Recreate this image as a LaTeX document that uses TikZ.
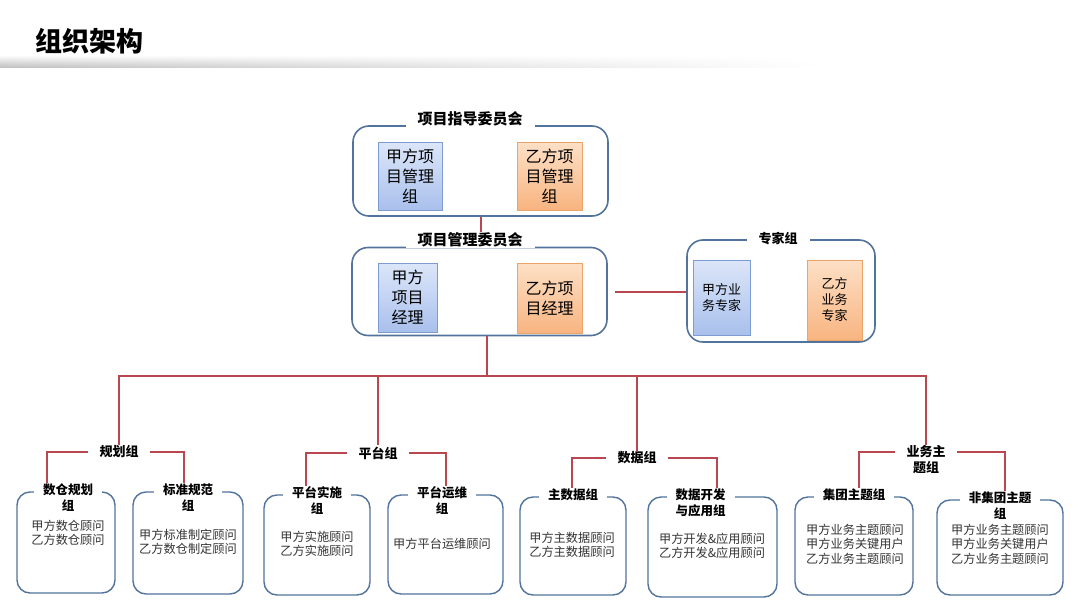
\documentclass[tikz,border=0pt]{standalone}
\usepackage{fontspec}
\setmainfont{Noto Sans CJK SC}
\usepackage{tikz}
\usetikzlibrary{positioning, calc, fadings}
\definecolor{myframe}{HTML}{52739B}
\definecolor{myred}{HTML}{B8474F}
\definecolor{myblue}{HTML}{A9C0EC}
\definecolor{mybluelt}{HTML}{DCE6F9}
\definecolor{myblueln}{HTML}{7E9BD2}
\definecolor{myorange}{HTML}{F8B480}
\definecolor{myorangelt}{HTML}{FDE0C6}
\definecolor{myorangeln}{HTML}{E9A46B}
\definecolor{mytext}{HTML}{333333}
\tikzfading[name=fadeout, left color=transparent!0, right color=transparent!100]

\begin{document}
\begin{tikzpicture}[x=1pt, y=-1pt,
    panel/.style={draw=myframe, line width=1.6pt, rounded corners=16pt, inner sep=0pt},
    subpanel/.style={draw=myframe, line width=1.4pt, rounded corners=13pt, inner sep=0pt},
    head/.style={fill=white, font=\bfseries\fontsize{15}{18}\selectfont, inner xsep=12pt, inner ysep=1pt},
    grouphead/.style={fill=white, font=\bfseries\fontsize{13}{16}\selectfont, align=center, inner xsep=11pt, inner ysep=1pt},
    subhead/.style={fill=white, font=\bfseries\fontsize{12.5}{15.5}\selectfont, align=center, inner xsep=9pt, inner ysep=1pt, anchor=north, yshift=8.5pt},
    jia/.style={draw=myblueln, top color=mybluelt, bottom color=myblue, align=center, inner sep=0pt, font=\fontsize{16}{20}\selectfont},
    yi/.style={draw=myorangeln, top color=myorangelt, bottom color=myorange, align=center, inner sep=0pt, font=\fontsize{16}{20}\selectfont},
    member/.style={font=\fontsize{12.2}{14.5}\selectfont, text=mytext, align=center},
    link/.style={draw=myred, line width=2pt}]
    \useasboundingbox (0,0) rectangle (1080,608);

    \node[anchor=west, font=\bfseries\fontsize{27}{32}\selectfont] (title) at (32,41) {组织架构};
    \shade[top color=white, bottom color=black!24, path fading=fadeout] (0,55) rectangle (820,67);

    \node[panel, minimum width=255pt, minimum height=90pt] (steer) at (480.5,171) {};
    \node[head] (steerT) at (470,119) {项目指导委员会};
    \node[jia, minimum width=64pt, minimum height=68pt] (steerA) at (410,176) {甲方项\\目管理\\组};
    \node[yi, minimum width=65pt, minimum height=68pt] (steerB) at (549.5,176) {乙方项\\目管理\\组};

    \node[panel, minimum width=255pt, minimum height=88pt] (mgmt) at (479.5,291.5) {};
    \node[head] (mgmtT) at (470,240) {项目管理委员会};
    \node[jia, minimum width=59pt, minimum height=69pt] (mgmtA) at (407.5,297.5) {甲方\\项目\\经理};
    \node[yi, minimum width=65pt, minimum height=70pt] (mgmtB) at (549.5,298) {乙方项\\目经理};

    \node[panel, minimum width=188pt, minimum height=102pt] (expert) at (781,291) {};
    \node[head, font=\bfseries\fontsize{13}{16}\selectfont] (expertT) at (778,239) {专家组};
    \node[jia, minimum width=57pt, minimum height=75pt, font=\fontsize{13}{16}\selectfont] (expertA) at (721.5,297.5) {甲方业\\务专家};
    \node[yi, minimum width=55pt, minimum height=80pt, font=\fontsize{13}{16}\selectfont] (expertB) at (834.5,300) {乙方\\业务\\专家};

    \draw[link] (steer.south) -- (steer.south |- mgmtT.north);
    \draw[link] ([xshift=7pt]mgmt.east) -- (mgmt.east -| expert.west);

    \node[grouphead] (plan) at (119,452) {规划组};
    \node[grouphead] (plat) at (378,453) {平台组};
    \node[grouphead] (data) at (637,458) {数据组};
    \node[grouphead] (biz) at (926,460) {业务主\\题组};

    \coordinate (hub) at (487,376);
    \draw[link] (hub |- mgmt.south) -- (hub);
    \draw[link] (plan.north) |- (hub) -| (biz.north);
    \draw[link] (plat.north) -- (plat.north |- hub);
    \draw[link] (data.north) -- (data.north |- hub);

    \node[subpanel, minimum width=98pt, minimum height=101pt] (dc) at (66,542.5) {};
    \node[subhead] (dcT) at ([xshift=2pt]dc.north) {数仓规划\\组};
    \node[member] (dcM) at (68,533) {甲方数仓顾问\\乙方数仓顾问};

    \node[subpanel, minimum width=110pt, minimum height=102pt] (bz) at (188,543) {};
    \node[subhead] (bzT) at (bz.north) {标准规范\\组};
    \node[member] (bzM) at (188,542) {甲方标准制定顾问\\乙方数仓制定顾问};

    \node[subpanel, minimum width=106pt, minimum height=100pt] (ps) at (317,545) {};
    \node[subhead] (psT) at (ps.north) {平台实施\\组};
    \node[member] (psM) at (317,544) {甲方实施顾问\\乙方实施顾问};

    \node[subpanel, minimum width=115pt, minimum height=99pt] (py) at (445.5,544.5) {};
    \node[subhead] (pyT) at ([xshift=-3.5pt]py.north) {平台运维\\组};
    \node[member] (pyM) at (442,544) {甲方平台运维顾问};

    \node[subpanel, minimum width=106pt, minimum height=98pt] (zs) at (573,546) {};
    \node[subhead] (zsT) at (zs.north) {主数据组};
    \node[member] (zsM) at (572,545) {甲方主数据顾问\\乙方主数据顾问};

    \node[subpanel, minimum width=129pt, minimum height=100pt] (kf) at (712.5,547) {};
    \node[subhead] (kfT) at ([xshift=-12pt]kf.north) {数据开发\\与应用组};
    \node[member] (kfM) at (712,546) {甲方开发\&应用顾问\\乙方开发\&应用顾问};

    \node[subpanel, minimum width=118pt, minimum height=98pt] (jt) at (854,546) {};
    \node[subhead] (jtT) at (jt.north) {集团主题组};
    \node[member] (jtM) at (855,544) {甲方业务主题顾问\\甲方业务关键用户\\乙方业务主题顾问};

    \node[subpanel, minimum width=126pt, minimum height=95pt] (fj) at (1000,547.5) {};
    \node[subhead] (fjT) at (fj.north) {非集团主题\\组};
    \node[member] (fjM) at (1000,544) {甲方业务主题顾问\\甲方业务关键用户\\乙方业务主题顾问};

    \draw[link] (plan.west) -| ([xshift=-21pt]dcT.north);
    \draw[link] (plan.east) -| ([xshift=-4pt]bzT.north);
    \draw[link] (plat.west) -| ([xshift=-11pt]psT.north);
    \draw[link] (plat.east) -| ([xshift=4pt]pyT.north);
    \draw[link] (data.west) -| ([xshift=-1pt]zsT.north);
    \draw[link] (data.east) -| ([xshift=16pt]kfT.north);
    \draw[link] ([yshift=8pt]biz.west) -| ([xshift=5pt]jtT.north);
    \draw[link] ([yshift=8pt]biz.east) -| ([xshift=5pt]fjT.north);
\end{tikzpicture}
\end{document}
